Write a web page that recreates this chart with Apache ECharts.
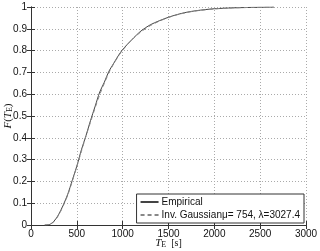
<!DOCTYPE html>
<html><head><meta charset="utf-8">
<script src="https://cdn.jsdelivr.net/npm/echarts@6/dist/echarts.min.js"></script>
<style>html,body{margin:0;padding:0;background:#fff}#c{width:320px;height:251px}</style>
</head><body><div id="c"></div>
<script>
var timeValues = [150,200,250,300,350,400,450,500,550,600,650,700,750,800,850,900,950,1000,1100,1200,1300,1400,1500,1600,1700,1800,1900,2000,2200,2400,2650];
var empiricalValues = [0,0.002,0.017,0.047,0.09,0.14,0.205,0.27,0.345,0.41,0.48,0.545,0.61,0.655,0.705,0.74,0.775,0.805,0.85,0.89,0.918,0.937,0.953,0.966,0.976,0.983,0.988,0.992,0.996,0.998,1.0];
var fittedValues = [0,0.003,0.015,0.044,0.086,0.136,0.2,0.268,0.338,0.408,0.473,0.538,0.598,0.65,0.698,0.738,0.772,0.802,0.849,0.886,0.914,0.935,0.952,0.965,0.975,0.982,0.987,0.991,0.996,0.998,0.999];
var xTicks = {min:0, max:3000, interval:500};
var yTicks = {min:0, max:1, interval:0.1};
var seriesNames = ['Empirical', 'Inv. Gaussian\u03bc= 754, \u03bb=3027.4'];
var yAxisTitle = '{i|F}({i|T}{s|E})';
var xAxisTitle = '{i|T}{s|E}  [s]';

function pairs(xs, ys){ return xs.map(function(x,i){return [x, ys[i]];}); }

var chart = echarts.init(document.getElementById('c'), null, {renderer:'canvas'});
var font = 'Liberation Sans, Arial, sans-serif';
var axisLine = {show:true, lineStyle:{color:'#333', width:1}};
var tick = {show:true, inside:true, length:4, lineStyle:{color:'#333'}};
var grid = {show:true, lineStyle:{color:'#aaa', width:1, type:[1,2]}};
var nameRich = {i:{fontFamily:'Liberation Serif, serif', fontStyle:'italic', fontSize:11, color:'#111', lineHeight:11},
  s:{fontFamily:'Liberation Serif, serif', fontSize:8, color:'#111', lineHeight:11, verticalAlign:'bottom', padding:[3,0,0,0]}};
chart.setOption({
  animation:false,
  grid:{left:31, right:14, top:7, bottom:26, containLabel:false, outerBoundsMode:'none'},
  graphic:[{
    type:'text', x:8, y:116, rotation:Math.PI/2, silent:true,
    style:{text:yAxisTitle, rich:nameRich, align:'center', verticalAlign:'middle',
      fontFamily:'Liberation Serif, serif', fontSize:11, fill:'#111'}
  }],
  legend:{
    orient:'vertical', right:16, bottom:28, padding:[3,4,3,3],
    backgroundColor:'#fff', borderColor:'#333', borderWidth:1, borderRadius:0,
    itemWidth:18, itemHeight:8, itemGap:3,
    itemStyle:{opacity:0},
    textStyle:{fontFamily:font, fontSize:10, color:'#111', padding:[0,0,0,-2]},
    data:seriesNames
  },
  xAxis:[{
    type:'value', min:xTicks.min, max:xTicks.max, interval:xTicks.interval,
    axisLine:axisLine, axisTick:tick,
    axisLabel:{fontFamily:font, fontSize:10, color:'#111', margin:4, formatter:function(v){return String(v);}},
    splitLine:grid,
    name:xAxisTitle, nameLocation:'middle', nameGap:13, nameMoveOverlap:false,
    nameTextStyle:{rich:nameRich, fontFamily:'Liberation Serif, serif', fontSize:10, color:'#111'}
  },{
    type:'value', position:'top', min:xTicks.min, max:xTicks.max, interval:xTicks.interval,
    axisLine:axisLine, axisTick:tick, axisLabel:{show:false}, splitLine:{show:false}
  }],
  yAxis:[{
    type:'value', min:yTicks.min, max:yTicks.max, interval:yTicks.interval,
    axisLine:axisLine, axisTick:tick,
    axisLabel:{fontFamily:font, fontSize:10, color:'#111', margin:4, formatter:function(v){return String(v);}},
    splitLine:grid
  },{
    type:'value', position:'right', min:yTicks.min, max:yTicks.max, interval:yTicks.interval,
    axisLine:axisLine, axisTick:tick, axisLabel:{show:false}, splitLine:{show:false}
  }],
  series:[{
    name:seriesNames[0], type:'line', data:pairs(timeValues, empiricalValues),
    symbol:'none', smooth:0.3, lineStyle:{color:'#444', width:1}, itemStyle:{color:'#444'}
  },{
    name:seriesNames[1], type:'line', data:pairs(timeValues, fittedValues),
    symbol:'none', smooth:0.3, lineStyle:{color:'#888', width:1, type:[4,3]}, itemStyle:{color:'#888'}
  }]
});
</script></body></html>
